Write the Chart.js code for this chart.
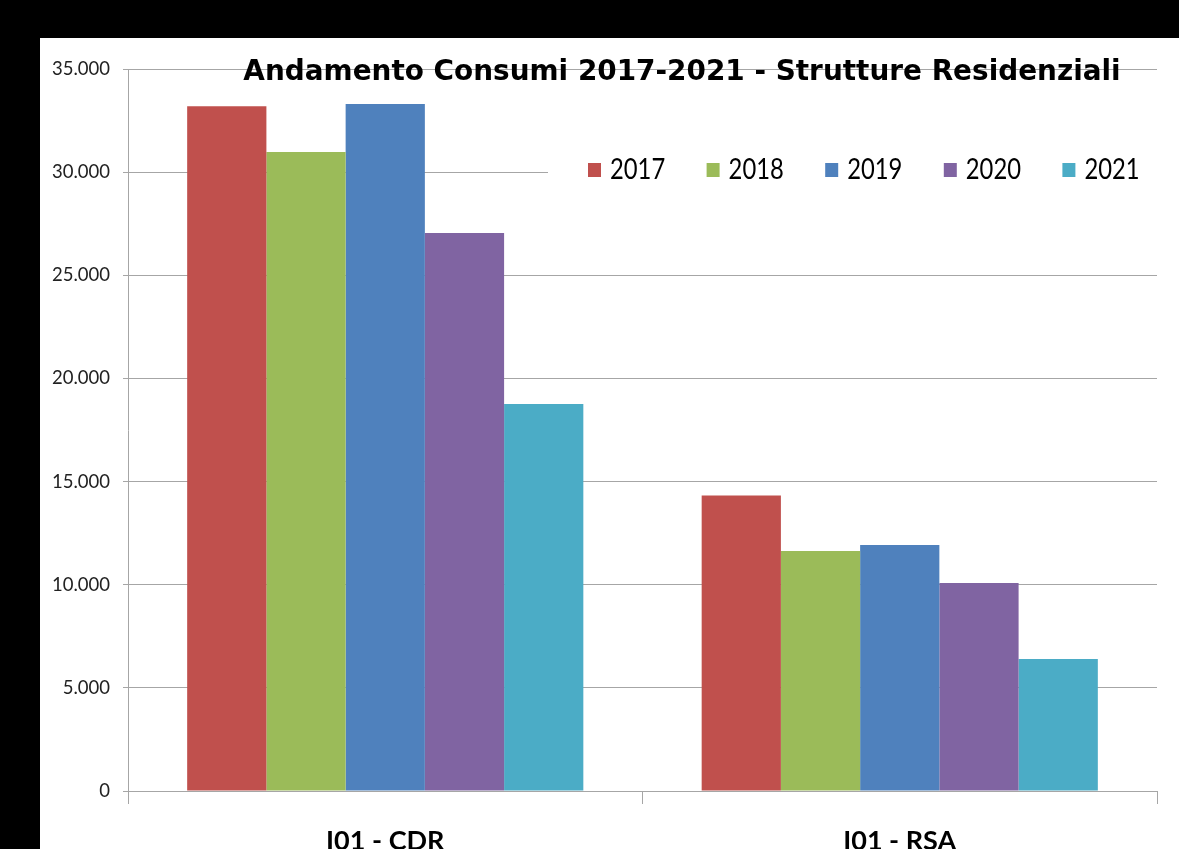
<!DOCTYPE html>
<html>
<head>
<meta charset="utf-8">
<script src="https://cdn.jsdelivr.net/npm/chart.js@4.4.1/dist/chart.umd.min.js"></script>
<style>
  html, body { margin: 0; padding: 0; background: #000; overflow: hidden; width: 1179px; height: 849px; }
  #wrap { position: absolute; left: 40px; top: 38px; background: #fff; }
  canvas { display: block; }
</style>
</head>
<body>
<div id="wrap"><canvas id="chart" width="1139" height="830"></canvas></div>
<script>
// Consumi per struttura, anni 2017-2021
const categories = ['I01 - CDR', 'I01 - RSA'];
const years = ['2017', '2018', '2019', '2020', '2021'];
const values2017 = [33200, 14330];
const values2018 = [30980, 11630];
const values2019 = [33300, 11930];
const values2020 = [27050, 10080];
const values2021 = [18760, 6400];
const yTicks = [0, 5000, 10000, 15000, 20000, 25000, 30000, 35000];

const colors = ['#C0504D', '#9BBB59', '#4F81BD', '#8064A2', '#4BACC6'];
const series = [values2017, values2018, values2019, values2020, values2021];

const chartTitle = 'Andamento Consumi 2017-2021 - Strutture Residenziali';

// thousands separator with a dot
function fmt(v) {
  return String(v).replace(/\B(?=(\d{3})+(?!\d))/g, '.');
}

// title drawn over the plot, plus a boxed legend in the upper right
const overlay = {
  id: 'overlay',
  afterDraw(chart) {
    const ctx = chart.ctx;
    ctx.save();

    // legend box
    ctx.fillStyle = '#fff';
    ctx.fillRect(508, 112, 609, 45);
    ctx.textBaseline = 'middle';
    ctx.textAlign = 'left';
    ctx.font = '29px Lato, "Noto Sans", sans-serif';
    chart.data.datasets.forEach((ds, i) => {
      const x = 548 + i * 118.6;
      ctx.fillStyle = ds.backgroundColor;
      ctx.fillRect(x, 125, 13, 14);
      // narrow the label text horizontally
      ctx.save();
      ctx.translate(x + 22, 132);
      ctx.scale(0.82, 1);
      ctx.fillStyle = '#000';
      ctx.fillText(ds.label, 0, 0);
      ctx.restore();
    });

    // title
    ctx.font = 'bold 26px "DejaVu Sans", sans-serif';
    const w = ctx.measureText(chartTitle).width;
    const size = 26 * 879 / w;
    ctx.font = 'bold ' + size.toFixed(1) + 'px "DejaVu Sans", sans-serif';
    ctx.fillStyle = '#000';
    ctx.textAlign = 'center';
    ctx.textBaseline = 'alphabetic';
    ctx.fillText(chartTitle, 642, 42);
    ctx.restore();
  }
};

new Chart(document.getElementById('chart'), {
  type: 'bar',
  data: {
    labels: categories,
    datasets: years.map((y, i) => ({
      label: y,
      data: series[i],
      backgroundColor: colors[i],
      borderWidth: 0,
      barPercentage: 1,
      categoryPercentage: 0.77
    }))
  },
  options: {
    responsive: false,
    devicePixelRatio: 1,
    animation: false,
    layout: { padding: { top: 31, right: 22, left: 0, bottom: 0 } },
    plugins: {
      legend: { display: false },
      title: { display: false },
      tooltip: { enabled: false }
    },
    scales: {
      x: {
        offset: true,
        grid: {
          offset: true,
          drawOnChartArea: false,
          drawTicks: true,
          tickLength: 13,
          color: '#a6a6a6'
        },
        border: { color: '#a6a6a6', width: 1 },
        ticks: {
          color: '#000',
          padding: 21,
          font: { family: 'Lato, "Noto Sans", sans-serif', size: 27, weight: 'bold' }
        },
        afterFit(scale) { scale.height = 77; }
      },
      y: {
        min: 0,
        max: 35000,
        afterBuildTicks(scale) { scale.ticks = yTicks.map(v => ({ value: v })); },
        grid: {
          color: '#a6a6a6',
          tickLength: 5,
          drawTicks: true
        },
        border: { color: '#a6a6a6', width: 1 },
        ticks: {
          color: '#222',
          padding: 13,
          font: { family: 'Lato, "Noto Sans", sans-serif', size: 18.5 },
          callback: v => fmt(v)
        },
        afterFit(scale) { scale.width = 88; }
      }
    }
  },
  plugins: [overlay]
});
</script>
</body>
</html>
